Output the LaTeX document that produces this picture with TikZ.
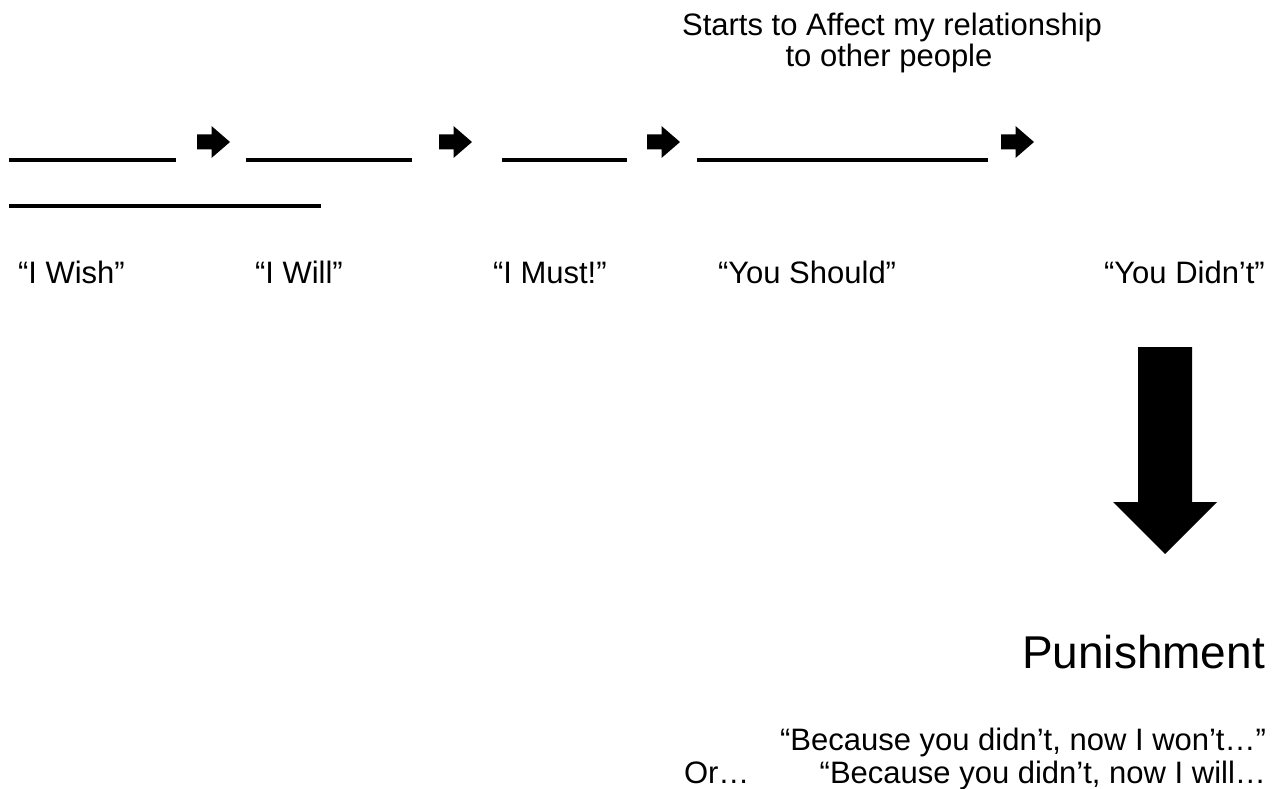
\documentclass[tikz,border=0pt]{standalone}
\usepackage{fontspec}
\setmainfont{Liberation Sans}
\begin{document}
\begin{tikzpicture}[x=1pt,y=-1pt,
  lbl/.style={inner sep=0pt,outer sep=0pt,font=\fontsize{31}{36}\selectfont},
  biglbl/.style={inner sep=0pt,outer sep=0pt,font=\fontsize{46}{52}\selectfont},
  blank/.style={line width=4pt,black},
  rarrow/.pic={\fill[black] (0,-7.5) -- (14.5,-7.5) -- (14.5,-16) -- (33,0) -- (14.5,16) -- (14.5,7.5) -- (0,7.5) -- cycle;}
]
\useasboundingbox (0,0) rectangle (1277,789);
% top caption
\node[lbl,anchor=base] (top1) at (892,36) {Starts to Affect my relationship};
\node[lbl,anchor=base] (top2) at (889,67) {to other people};
% blanks
\coordinate (b1s) at (9,160);   \coordinate (b1e) at (176,160);
\coordinate (b2s) at (246,160); \coordinate (b2e) at (412,160);
\coordinate (b3s) at (502,160); \coordinate (b3e) at (627,160);
\coordinate (b4s) at (697,160); \coordinate (b4e) at (988,160);
\coordinate (b5s) at (9,206);   \coordinate (b5e) at (321,206);
\draw[blank] (b1s) -- (b1e);
\draw[blank] (b2s) -- (b2e);
\draw[blank] (b3s) -- (b3e);
\draw[blank] (b4s) -- (b4e);
\draw[blank] (b5s) -- (b5e);
% small arrows
\pic at (197,142) {rarrow};
\pic at (439,142) {rarrow};
\pic at (647,142) {rarrow};
\pic at (1001,142) {rarrow};
% labels
\node[lbl,anchor=base west] (wish) at (18,283) {“I Wish”};
\node[lbl,anchor=base west] (will) at (255,283) {“I Will”};
\node[lbl,anchor=base west] (must) at (493,283) {“I Must!”};
\node[lbl,anchor=base west] (should) at (718,283) {“You Should”};
\node[lbl,anchor=base west] (didnt) at (1104,283) {“You Didn’t”};
% big down arrow
\fill[black] (1138,347) -- (1192,347) -- (1192,502) -- (1217,502) -- (1165,554) -- (1113,502) -- (1138,502) -- cycle;
% punishment
\node[biglbl,anchor=base west] (pun) at (1022,668) {Punishment};
\node[lbl,anchor=base east] (won) at (1266,750) {“Because you didn’t, now I won’t…”};
\node[lbl,anchor=base west] (or) at (684,783) {Or…};
\node[lbl,anchor=base east] (willb) at (1266,783) {“Because you didn’t, now I will…};
\end{tikzpicture}
\end{document}
